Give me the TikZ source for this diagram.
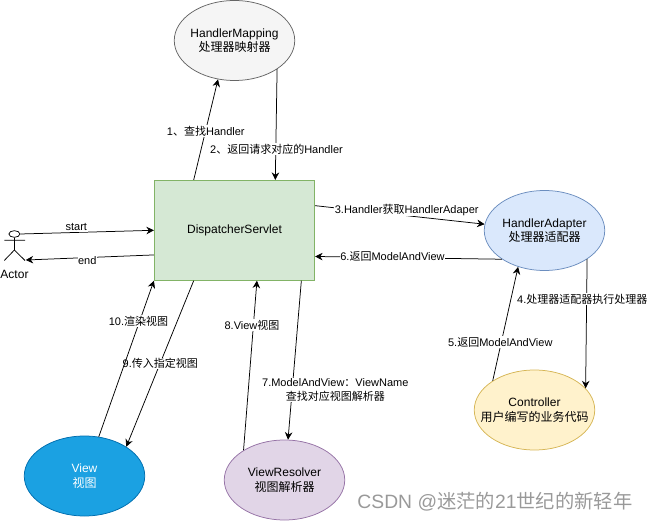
\documentclass[tikz,border=0pt]{standalone}
\usepackage{fontspec}
\setmainfont{Liberation Sans}
\newfontfamily\cjk{Noto Sans CJK SC}
\usepackage{tikz}
\usetikzlibrary{arrows.meta,shapes.geometric}

\definecolor{grayfill}{HTML}{F5F5F5}
\definecolor{grayline}{HTML}{666666}
\definecolor{greenfill}{HTML}{D5E8D4}
\definecolor{greenline}{HTML}{82B366}
\definecolor{bluefill}{HTML}{DAE8FC}
\definecolor{blueline}{HTML}{6C8EBF}
\definecolor{yellowfill}{HTML}{FFF2CC}
\definecolor{yellowline}{HTML}{D6B656}
\definecolor{viewfill}{HTML}{1BA1E2}
\definecolor{viewline}{HTML}{006EAF}
\definecolor{purplefill}{HTML}{E1D5E7}
\definecolor{purpleline}{HTML}{9673A6}

\tikzset{
  state/.style={ellipse,draw=#1,line width=0.75pt,minimum width=120.5pt,minimum height=80pt,inner xsep=-20pt,inner ysep=0pt,align=center,font=\fontsize{12}{14.5}\selectfont},
  flow/.style={draw=black,line width=0.75pt,-{Stealth[length=7.5pt,width=7.5pt]}},
  lbl/.style={fill=white,inner sep=0.6pt,align=center,font=\fontsize{11}{14}\selectfont}
}

\begin{document}
\begin{tikzpicture}[x=1pt,y=-1pt]
    \useasboundingbox (0,0) rectangle (648,521);

    % Draw the components
    \node[state=grayline,fill=grayfill] (mapping) at (234.5,40.5) {HandlerMapping\\{\cjk 处理器映射器}};
    \node[draw=greenline,fill=greenfill,line width=0.75pt,minimum width=160.4pt,minimum height=100pt,inner sep=0pt,font=\fontsize{12}{14.5}\selectfont] (servlet) at (234.5,230.3) {DispatcherServlet};
    \node[state=blueline,fill=bluefill] (adapter) at (544.5,230.5) {HandlerAdapter\\{\cjk 处理器适配器}};
    \node[state=yellowline,fill=yellowfill] (controller) at (534.5,410) {Controller\\{\cjk 用户编写的业务代码}};
    \node[state=viewline,fill=viewfill,text=white] (view) at (84.5,476) {View\\{\cjk 视图}};
    \node[state=purpleline,fill=purplefill] (resolver) at (284.5,480) {ViewResolver\\{\cjk 视图解析器}};

    % Draw the actor
    \node[ellipse,draw,line width=0.75pt,fill=white,minimum width=11pt,minimum height=6.6pt,inner sep=0pt] (head) at (14.4,234) {};
    \draw[line width=0.75pt] (head.south) -- (14.4,250) (4.3,240.3) -- (25,240.3) (4.3,260.5) -- (14.4,250) -- (25,260.5);
    \node[font=\fontsize{12}{14}\selectfont] (actor) at (14.5,274) {Actor};
    \coordinate (foot) at (25.7,260);

    % Draw the connectors
    \draw[flow] (servlet.129) -- (mapping.247);
    \draw[flow] (mapping.326) -- (servlet.51.2);
    \draw[flow] (servlet.17) -- (adapter.174);
    \draw[flow] (adapter.214) -- (servlet.342.5);
    \draw[flow] (adapter.326) -- (controller.23.5);
    \draw[flow] (controller.145) -- (adapter.234.6);
    \draw[flow] (head.east) -- (servlet.180.5);
    \draw[flow] (servlet.197.6) -- (foot);
    \draw[flow] (servlet.231.3) -- (view.35.2);
    \node[lbl] (lblNine) at (160.3,363.3) {9.{\cjk 传入指定视图}};
    \draw[flow] (view.70.7) -- (servlet.south west);
    \draw[flow] (resolver.144.8) -- (servlet.294);
    \draw[flow] (servlet.323.4) -- (resolver.85);

    % Connector labels
    \node[lbl] (lblOne) at (205.8,131) {1{\cjk 、查找}Handler};
    \node[lbl] (lblTwo) at (276.5,149) {2{\cjk 、返回请求对应的}Handler};
    \node[lbl] (lblThree) at (406.7,210) {3.Handler{\cjk 获取}HandlerAdaper};
    \node[lbl] (lblSix) at (392.5,256) {6.{\cjk 返回}ModelAndView};
    \node[lbl] (lblFour) at (582.3,299) {4.{\cjk 处理器适配器执行处理器}};
    \node[lbl] (lblFive) at (500.3,342) {5.{\cjk 返回}ModelAndView};
    \node[lbl] (lblStart) at (76.3,227.3) {start};
    \node[lbl] (lblEnd) at (87.3,260.3) {end};
    \node[lbl] (lblTen) at (138.5,321) {10.{\cjk 渲染视图}};
    \node[lbl] (lblEight) at (252,325) {8.View{\cjk 视图}};
    \node[lbl] (lblSeven) at (335.3,390.3) {7.ModelAndView{\cjk ：}ViewName\\{\cjk 查找对应视图解析器}};

    % Watermark
    \node[font=\fontsize{19.3}{21}\selectfont,text=black!40,anchor=east,inner sep=0pt] (mark) at (632.5,501.7) {CSDN @{\cjk 迷茫的}21{\cjk 世纪的新轻年}};

\end{tikzpicture}
\end{document}
